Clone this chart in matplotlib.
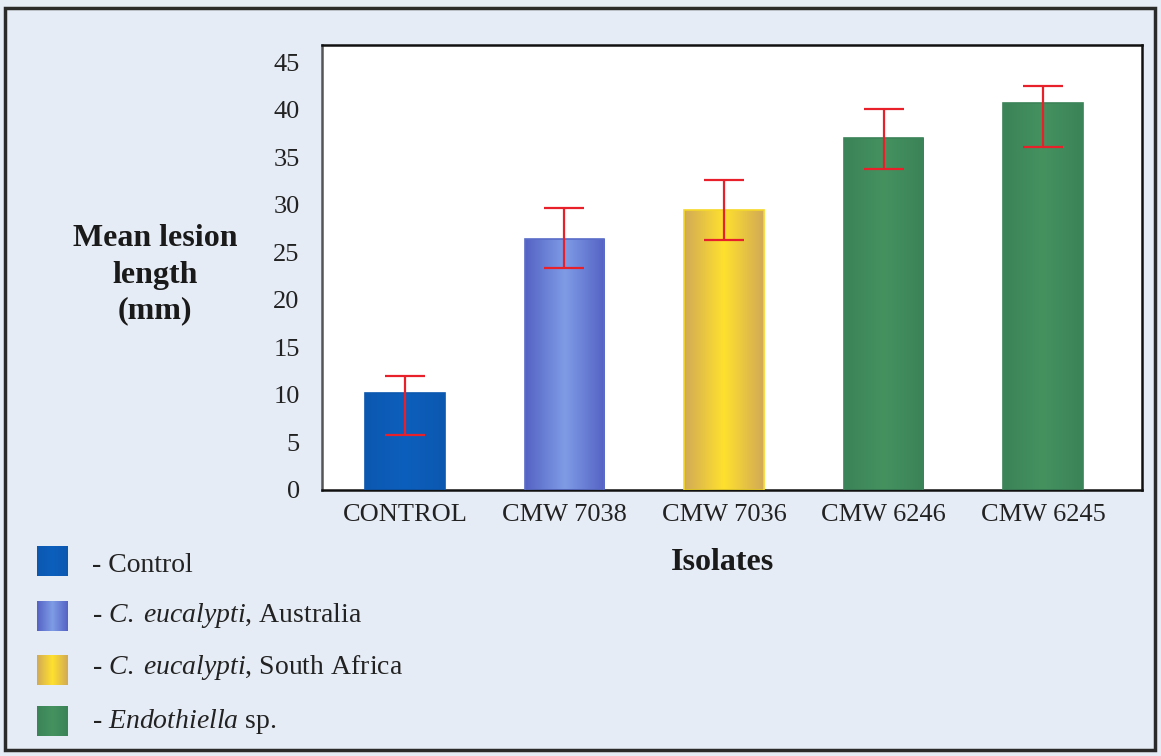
"""Mean lesion length per isolate, bar chart with red error bars."""

import matplotlib

matplotlib.use("Agg")
import matplotlib.pyplot as plt
import numpy as np
from matplotlib.colors import LinearSegmentedColormap
from matplotlib.patches import Rectangle

plt.rcParams["font.family"] = ["Liberation Serif", "DejaVu Serif"]
plt.rcParams["mathtext.fontset"] = "custom"
plt.rcParams["mathtext.rm"] = "Liberation Serif"
plt.rcParams["mathtext.it"] = "Liberation Serif:italic"

# data
isolates = ["CONTROL", "CMW 7038", "CMW 7036", "CMW 6246", "CMW 6245"]
means = [10.2, 26.4, 29.4, 37.0, 40.7]
err_upper = [12.0, 29.6, 32.6, 40.1, 42.5]
err_lower = [5.8, 23.3, 26.3, 33.8, 36.1]
groups = [0, 1, 2, 3, 3]
yticks = [0, 5, 10, 15, 20, 25, 30, 35, 40, 45]

legend_labels = [
    "- Control",
    r"- $\mathit{C.\;eucalypti}$, Australia",
    r"- $\mathit{C.\;eucalypti}$, South Africa",
    r"- $\mathit{Endothiella}$ sp.",
]

# colour ramps (edge -> centre -> edge) for each group
group_cmaps = [
    LinearSegmentedColormap.from_list("ctl", ["#0b58b0", "#0d5fbd", "#0b58b0"]),
    LinearSegmentedColormap.from_list("aus", ["#5563c4", "#7f9ce6", "#5563c4"]),
    LinearSegmentedColormap.from_list("sa", ["#d2aa55", "#ffe12e", "#d2aa55"]),
    LinearSegmentedColormap.from_list("endo", ["#3b8358", "#45925f", "#3b8358"]),
]
edge_colors = ["#0b58b0", "#5a6cc8", "#f5d82a", "#3b8358"]
BG = "#e6ecf5"
RED = "#e8202a"

fig = plt.figure(figsize=(11.61, 7.56), dpi=100, facecolor=BG)
ax = fig.add_axes([0.2773, 0.352, 0.7063, 0.5885])
ax.set_facecolor("white")

x = np.arange(len(isolates))
bars = ax.bar(x, means, width=0.5, color="none", edgecolor="none", zorder=2)

ramp = np.linspace(0, 1, 64).reshape(1, -1)
for bar, g in zip(bars, groups):
    x0, w, h = bar.get_x(), bar.get_width(), bar.get_height()
    im = ax.imshow(ramp, cmap=group_cmaps[g], aspect="auto",
                   extent=(x0, x0 + w, 0, h), zorder=2, interpolation="bicubic")
    im.set_clip_path(bar)
    ax.add_patch(Rectangle((x0, 0), w, h, fill=False, edgecolor=edge_colors[g],
                           linewidth=1.2, zorder=3))

yerr = np.array([np.array(means) - np.array(err_lower),
                 np.array(err_upper) - np.array(means)])
ax.errorbar(x, means, yerr=yerr, fmt="none", ecolor=RED, elinewidth=1.6,
            capsize=14.5, capthick=1.6, zorder=4)

ax.set_xlim(-0.52, 4.62)
ax.set_ylim(0, 46.8)
ax.set_yticks(yticks)
ax.set_xticks(x)
ax.set_xticklabels(isolates)
ax.tick_params(axis="both", length=0, labelsize=19, colors="#222222")
ax.tick_params(axis="y", pad=16)
ax.tick_params(axis="x", pad=10)
for side, sp in ax.spines.items():
    sp.set_linewidth(1.8)
    sp.set_color("#111111")
ax.spines["left"].set_color("#555555")

fig.text(155 / 1161, 1 - 275 / 756, "Mean lesion\nlength\n(mm)", ha="center",
         va="center", fontsize=23, fontweight="bold", linespacing=1.32,
         color="#1a1a1a")
fig.text(722 / 1161, 1 - 563 / 756, "Isolates", ha="center", va="center",
         fontsize=23, fontweight="bold", color="#1a1a1a")

# legend: gradient squares plus labels
legend_y = [565, 616, 668, 721]
square_y = [561, 616, 670, 721]
for label, yc, ys, cmap in zip(legend_labels, legend_y, square_y, group_cmaps):
    sq = fig.add_axes([37 / 1161, 1 - (ys + 15) / 756, 31 / 1161, 30 / 756])
    sq.imshow(ramp, cmap=cmap, aspect="auto", interpolation="bicubic")
    sq.set_axis_off()
    fig.text(92 / 1161, 1 - yc / 756, label, ha="left", va="center",
             fontsize=20, color="#222222")

fig.add_artist(Rectangle((5 / 1161, 6 / 756), 1150 / 1161, 742 / 756,
                         transform=fig.transFigure, fill=False,
                         edgecolor="#2a2a2a", linewidth=2.5))

fig.savefig("out.png", dpi=100, facecolor=BG)
